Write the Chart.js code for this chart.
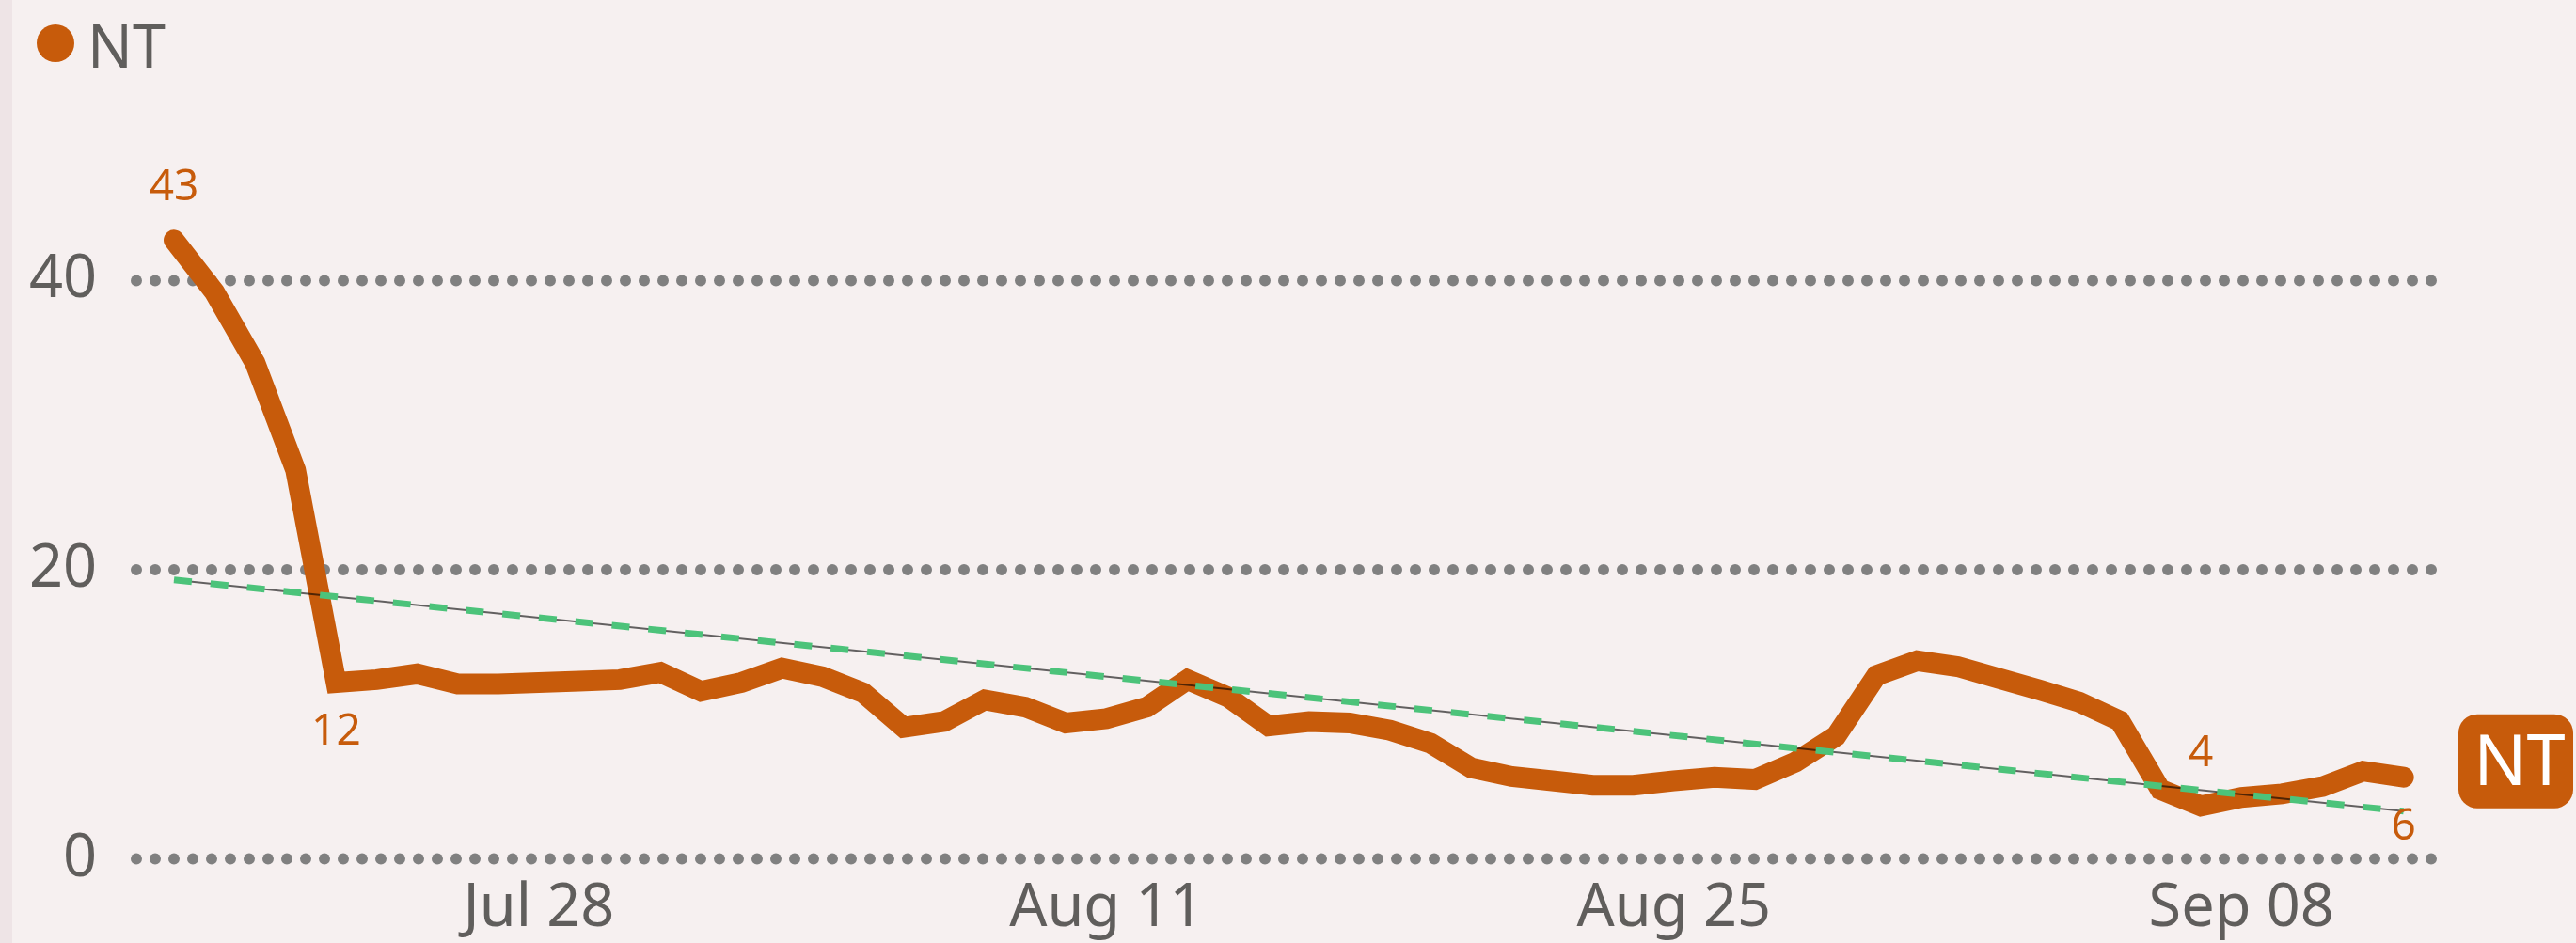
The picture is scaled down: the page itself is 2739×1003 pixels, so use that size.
<!DOCTYPE html>
<html><head><meta charset="utf-8">
<script src="https://cdn.jsdelivr.net/npm/chart.js@4"></script>
<style>
html,body{margin:0;padding:0;background:#f6f0f0;}
#wrap{position:relative;width:2739px;height:1003px;overflow:hidden;background:#f6f0f0;}
#bar{position:absolute;left:0;top:0;width:13px;height:100%;background:#eee4e6;}
canvas{position:absolute;left:0;top:0;}
</style></head><body>
<div id="wrap"><div id="bar"></div><canvas id="c" width="2739" height="1003"></canvas></div>
<script>
const seriesName = "NT";
const dates = [
  "Jul 19","Jul 20","Jul 21","Jul 22","Jul 23","Jul 24","Jul 25","Jul 26","Jul 27","Jul 28","Jul 29","Jul 30","Jul 31",
  "Aug 01","Aug 02","Aug 03","Aug 04","Aug 05","Aug 06","Aug 07","Aug 08","Aug 09","Aug 10","Aug 11","Aug 12","Aug 13","Aug 14","Aug 15","Aug 16",
  "Aug 17","Aug 18","Aug 19","Aug 20","Aug 21","Aug 22","Aug 23","Aug 24","Aug 25","Aug 26","Aug 27","Aug 28","Aug 29","Aug 30","Aug 31",
  "Sep 01","Sep 02","Sep 03","Sep 04","Sep 05","Sep 06","Sep 07","Sep 08","Sep 09","Sep 10","Sep 11","Sep 12"
];
const values = [
  42.8, 39.2, 34.3, 26.9, 12.2, 12.4, 12.8, 12.1, 12.1, 12.2,
  12.3, 12.4, 12.9, 11.6, 12.2, 13.2, 12.6, 11.5, 9.1, 9.5,
  11.0, 10.5, 9.4, 9.7, 10.5, 12.4, 11.2, 9.2, 9.5, 9.4,
  8.9, 8.0, 6.3, 5.7, 5.4, 5.1, 5.1, 5.4, 5.65, 5.5,
  6.7, 8.5, 12.7, 13.7, 13.3, 12.5, 11.7, 10.85, 9.55, 4.8,
  3.66, 4.25, 4.5, 5.0, 6.07, 5.65
];
const trendValues = [19.3, 3.3];
const yTickValues = [0, 20, 40];
const xTickLabels = ["Jul 28", "Aug 11", "Aug 25", "Sep 08"];
const labelledPoints = [0, 4, 50, 55];
const labelSides = ["above", "below", "above", "below"];

const FONT = "'Segoe UI', 'Noto Sans', sans-serif";
const ORANGE = "#c75b0b";
const TEXT = "#605e5c";

const gridDots = {
  id: 'gridDots',
  beforeDatasetsDraw(chart) {
    const {ctx, chartArea: {left, right}, scales: {y}} = chart;
    ctx.save();
    ctx.fillStyle = '#808080';
    yTickValues.forEach(v => {
      const py = y.getPixelForValue(v);
      for (let x = left + 6; x <= right - 5.5; x += 20) {
        ctx.beginPath();
        ctx.arc(x, py, 6, 0, Math.PI * 2);
        ctx.fill();
      }
    });
    ctx.restore();
  }
};

const overlay = {
  id: 'overlay',
  afterDatasetsDraw(chart) {
    const {ctx, chartArea, scales: {x, y}} = chart;
    ctx.save();
    // data labels
    ctx.fillStyle = ORANGE;
    ctx.font = `46px ${FONT}`;
    ctx.textAlign = 'center';
    ctx.textBaseline = 'middle';
    labelledPoints.forEach((i, k) => {
      const px = x.getPixelForValue(i);
      const py = y.getPixelForValue(values[i]);
      const ly = labelSides[k] === 'above' ? py - 55.5 : py + 53;
      ctx.fillText(String(Math.round(values[i])), px, ly);
    });
    // legend
    ctx.beginPath();
    ctx.arc(59, 46, 20, 0, Math.PI * 2);
    ctx.fillStyle = ORANGE;
    ctx.fill();
    ctx.fillStyle = TEXT;
    ctx.font = `63px ${FONT}`;
    ctx.textAlign = 'left';
    ctx.textBaseline = 'alphabetic';
    ctx.fillText(seriesName, 93, 72);
    // end badge
    const last = values.length - 1;
    const cy = y.getPixelForValue(values[last]) - 17;
    const bx = chartArea.right + 23, bw = 122, bh = 100;
    ctx.beginPath();
    if (ctx.roundRect) ctx.roundRect(bx, cy - bh / 2, bw, bh, 20);
    else ctx.rect(bx, cy - bh / 2, bw, bh);
    ctx.fillStyle = ORANGE;
    ctx.fill();
    ctx.fillStyle = '#ffffff';
    ctx.font = `74px ${FONT}`;
    ctx.textAlign = 'center';
    ctx.textBaseline = 'middle';
    ctx.fillText(seriesName, bx + bw / 2 + 4, cy + 4);
    ctx.restore();
  }
};

const trendData = [
  {x: 0, y: trendValues[0]},
  {x: dates.length - 1, y: trendValues[1]}
];

new Chart(document.getElementById('c'), {
  type: 'line',
  data: {
    datasets: [
      {
        label: seriesName,
        data: values.map((v, i) => ({x: i, y: v})),
        borderColor: ORANGE,
        borderWidth: 22,
        borderCapStyle: 'round',
        borderJoinStyle: 'miter',
        pointRadius: 0,
        tension: 0,
        order: 3,
        clip: false
      },
      {
        label: 'trend',
        data: trendData,
        borderColor: 'rgba(0,0,0,0.6)',
        borderWidth: 2,
        pointRadius: 0,
        order: 2,
        clip: false
      },
      {
        label: 'trend-dash',
        data: trendData,
        borderColor: '#4cc37a',
        borderWidth: 7,
        borderDash: [19, 20],
        borderCapStyle: 'butt',
        pointRadius: 0,
        order: 1,
        clip: false
      }
    ]
  },
  options: {
    responsive: false,
    animation: false,
    devicePixelRatio: 1,
    layout: {padding: {top: 221.5, right: 148, bottom: 0, left: 0}},
    plugins: {legend: {display: false}, tooltip: {enabled: false}},
    scales: {
      x: {
        type: 'linear',
        min: -1.067,
        max: 55.82,
        grid: {display: false, drawTicks: false},
        border: {display: false},
        afterBuildTicks: s => { s.ticks = xTickLabels.map(l => ({value: dates.indexOf(l)})); },
        afterFit: s => { s.height = 89.4; },
        ticks: {
          autoSkip: false, maxRotation: 0, minRotation: 0, padding: 16,
          color: TEXT, font: {family: FONT, size: 63},
          callback: v => dates[v]
        }
      },
      y: {
        min: 0,
        max: 45,
        grid: {display: false, drawTicks: false},
        border: {display: false},
        afterBuildTicks: s => { s.ticks = yTickValues.map(v => ({value: v})); },
        afterFit: s => { s.width = 139; },
        ticks: {padding: 36, color: TEXT, font: {family: FONT, size: 63}}
      }
    }
  },
  plugins: [gridDots, overlay]
});
</script>
</body></html>
